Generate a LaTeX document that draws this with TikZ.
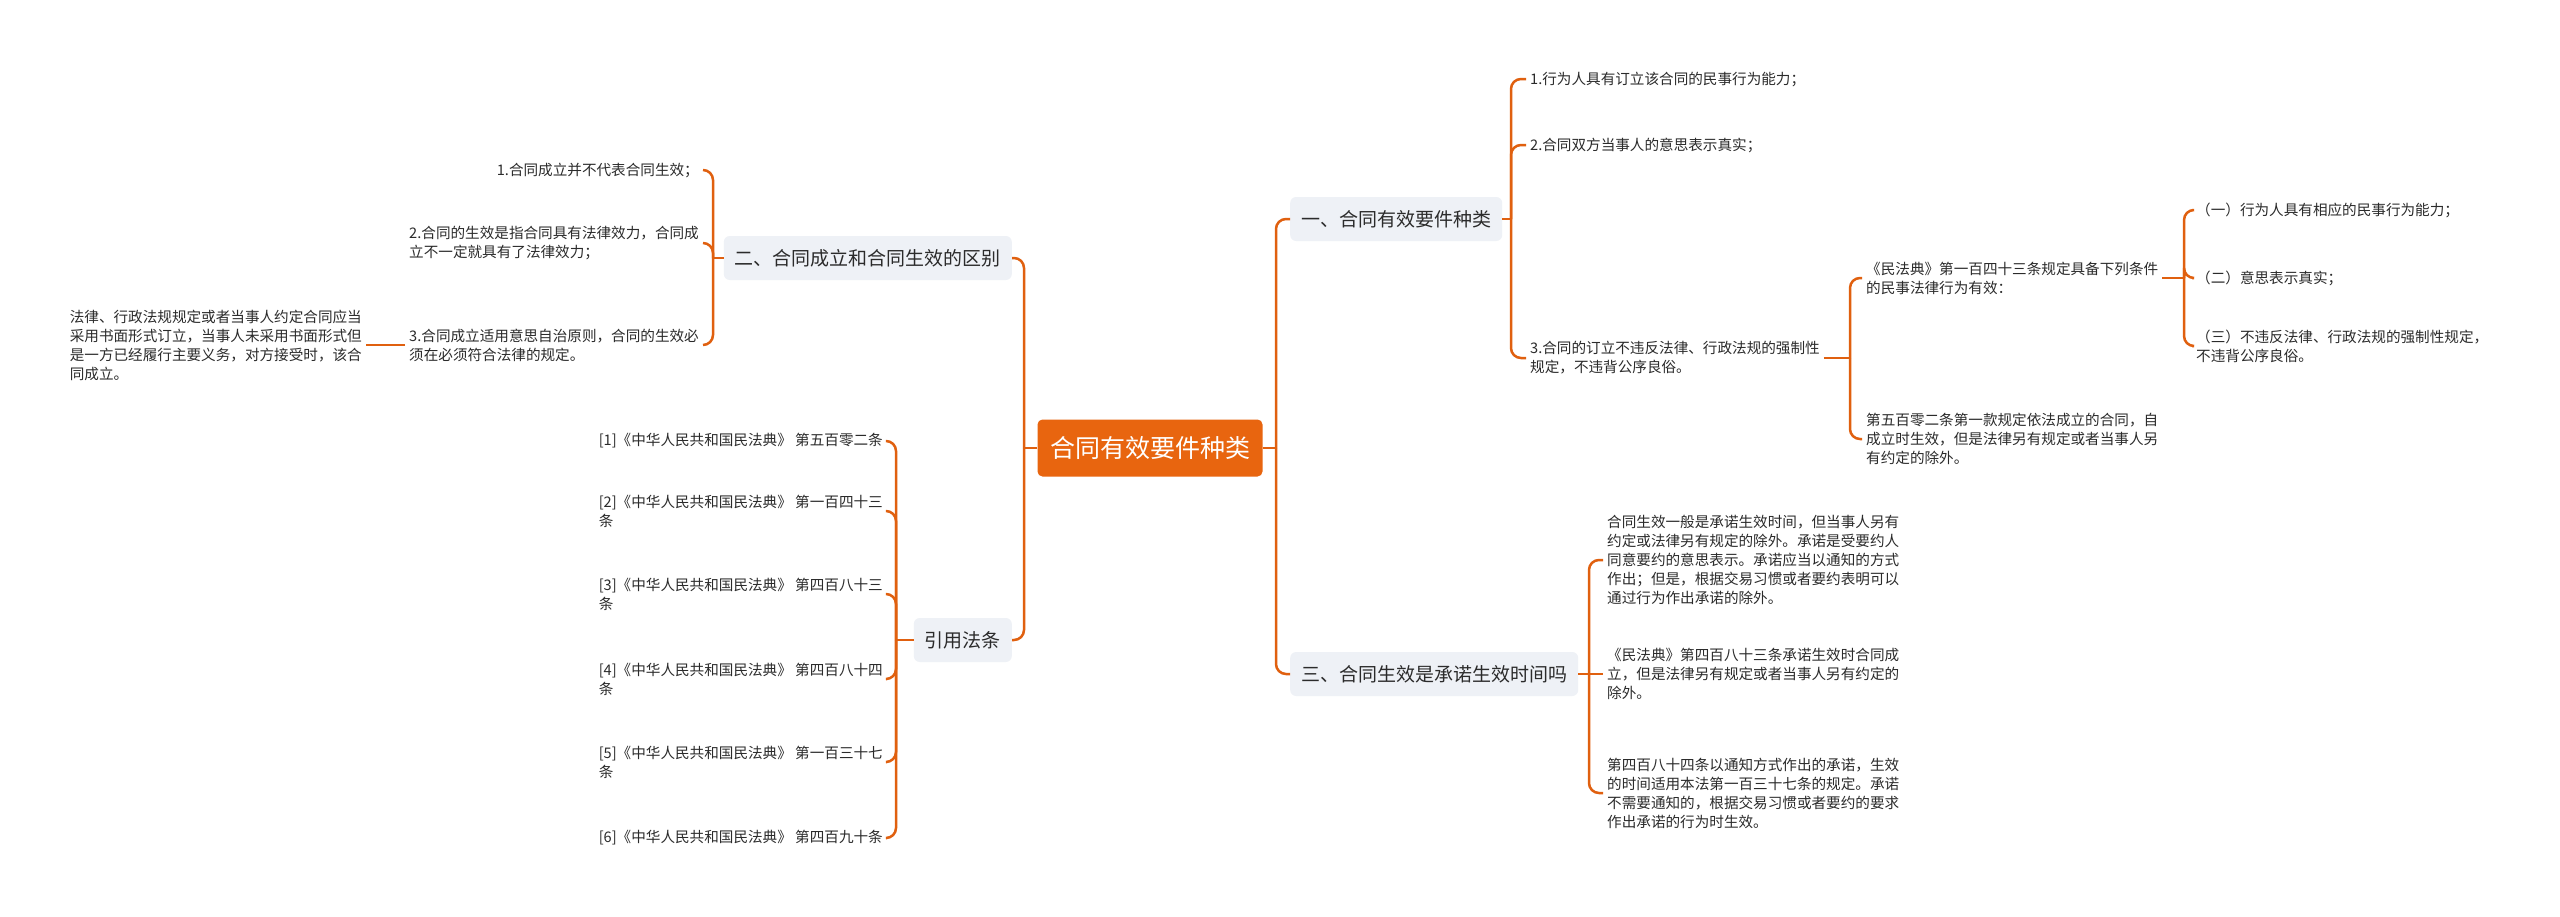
\documentclass[tikz,border=0pt]{standalone}
\usepackage{fontspec}
\setmainfont{Noto Sans CJK SC}
\definecolor{ln}{HTML}{E0600F}
\definecolor{ctr}{HTML}{E8650F}
\definecolor{lvfill}{HTML}{EEF1F6}
\definecolor{txt}{HTML}{2B2B2B}
\tikzset{
 conn/.style={draw=ln, line width=2.5pt, rounded corners=10pt},
 rootbox/.style={fill=ctr, text=white, rounded corners=5pt, font=\fontsize{25pt}{29pt}\selectfont, minimum height=57pt, minimum width=225pt, inner xsep=12pt},
 lvone/.style={fill=lvfill, text=txt, rounded corners=6pt, font=\fontsize{19pt}{23pt}\selectfont, minimum height=44pt, inner xsep=11pt},
 leaf/.style={text=txt, font=\fontsize{14.6pt}{19pt}\selectfont, align=left, inner xsep=4pt, inner ysep=2pt},
}
\begin{document}
\begin{tikzpicture}[x=1pt,y=-1pt]
\fill[white] (0,0) rectangle (2560,916);
\useasboundingbox (0,0) rectangle (2560,916);
% root and level one
\node[rootbox] (root) at (1150,448) {合同有效要件种类};
\node[lvone, anchor=west] (A) at (1290,219) {一、合同有效要件种类};
\node[lvone, anchor=west] (C) at (1290,674) {三、合同生效是承诺生效时间吗};
\node[lvone, anchor=east] (B) at (1012,258) {二、合同成立和合同生效的区别};
\node[lvone, anchor=east] (D) at (1012,640) {引用法条};
\coordinate (jr) at (1276,448);
\coordinate (jl) at (1024,448);
\draw[conn] (root.east) -- (jr);
\draw[conn] (jr) |- (A.west);
\draw[conn] (jr) |- (C.west);
\draw[conn] (root.west) -- (jl);
\draw[conn] (jl) |- (B.east);
\draw[conn] (jl) |- (D.east);
% branch A
\node[leaf, anchor=west] (a1) at (1526,79) {1.行为人具有订立该合同的民事行为能力；};
\node[leaf, anchor=west] (a2) at (1526,145) {2.合同双方当事人的意思表示真实；};
\node[leaf, anchor=west] (a3) at (1526,358) {3.合同的订立不违反法律、行政法规的强制性\\规定，不违背公序良俗。};
\coordinate (ja) at (1511,219);
\draw[conn] (A.east) -- (ja);
\draw[conn] (ja) |- (a1.west);
\draw[conn] (ja) |- (a2.west);
\draw[conn] (ja) |- (a3.west);
\node[leaf, anchor=west] (b1) at (1862,278) {《民法典》第一百四十三条规定具备下列条件\\的民事法律行为有效：};
\node[leaf, anchor=west] (b2) at (1862,439) {第五百零二条第一款规定依法成立的合同，自\\成立时生效，但是法律另有规定或者当事人另\\有约定的除外。};
\coordinate (ja3) at (1850,358);
\draw[conn] (a3.east) -- (ja3);
\draw[conn] (ja3) |- (b1.west);
\draw[conn] (ja3) |- (b2.west);
\node[leaf, anchor=west] (c1) at (2192,210) {（一）行为人具有相应的民事行为能力；};
\node[leaf, anchor=west] (c2) at (2192,278) {（二）意思表示真实；};
\node[leaf, anchor=west] (c3) at (2192,346) {（三）不违反法律、行政法规的强制性规定，\\不违背公序良俗。};
\coordinate (jb1) at (2184,278);
\draw[conn] (b1.east) -- (jb1);
\draw[conn] (jb1) |- (c1.west);
\draw[conn] (jb1) |- (c2.west);
\draw[conn] (jb1) |- (c3.west);
% branch C
\node[leaf, anchor=west] (d1) at (1603,560) {合同生效一般是承诺生效时间，但当事人另有\\约定或法律另有规定的除外。承诺是受要约人\\同意要约的意思表示。承诺应当以通知的方式\\作出；但是，根据交易习惯或者要约表明可以\\通过行为作出承诺的除外。};
\node[leaf, anchor=west] (d2) at (1603,674) {《民法典》第四百八十三条承诺生效时合同成\\立，但是法律另有规定或者当事人另有约定的\\除外。};
\node[leaf, anchor=west] (d3) at (1603,793) {第四百八十四条以通知方式作出的承诺，生效\\的时间适用本法第一百三十七条的规定。承诺\\不需要通知的，根据交易习惯或者要约的要求\\作出承诺的行为时生效。};
\coordinate (jc) at (1589,674);
\draw[conn] (C.east) -- (jc);
\draw[conn] (jc) |- (d1.west);
\draw[conn] (jc) -- (d2.west);
\draw[conn] (jc) |- (d3.west);
% branch B
\node[leaf, anchor=east] (e1) at (703,170) {1.合同成立并不代表合同生效；};
\node[leaf, anchor=east] (e2) at (703,243) {2.合同的生效是指合同具有法律效力，合同成\\立不一定就具有了法律效力；};
\node[leaf, anchor=east] (e3) at (703,345) {3.合同成立适用意思自治原则，合同的生效必\\须在必须符合法律的规定。};
\coordinate (jb) at (713,258);
\draw[conn] (B.west) -- (jb);
\draw[conn] (jb) |- (e1.east);
\draw[conn] (jb) |- (e2.east);
\draw[conn] (jb) |- (e3.east);
\node[leaf, anchor=east] (f1) at (366,345) {法律、行政法规规定或者当事人约定合同应当\\采用书面形式订立，当事人未采用书面形式但\\是一方已经履行主要义务，对方接受时，该合\\同成立。};
\draw[conn] (e3.west) -- (f1.east);
% branch D
\node[leaf, anchor=east] (g1) at (887,441) {[1]《中华人民共和国民法典》 第五百零二条};
\node[leaf, anchor=east] (g2) at (887,511) {[2]《中华人民共和国民法典》 第一百四十三\\条};
\node[leaf, anchor=east] (g3) at (887,594) {[3]《中华人民共和国民法典》 第四百八十三\\条};
\node[leaf, anchor=east] (g4) at (887,679) {[4]《中华人民共和国民法典》 第四百八十四\\条};
\node[leaf, anchor=east] (g5) at (887,762) {[5]《中华人民共和国民法典》 第一百三十七\\条};
\node[leaf, anchor=east] (g6) at (887,838) {[6]《中华人民共和国民法典》 第四百九十条};
\coordinate (jd) at (896,640);
\draw[conn] (D.west) -- (jd);
\foreach \g in {g1,g2,g3,g4,g5,g6} {\draw[conn] (jd) |- (\g.east);}
\end{tikzpicture}
\end{document}
